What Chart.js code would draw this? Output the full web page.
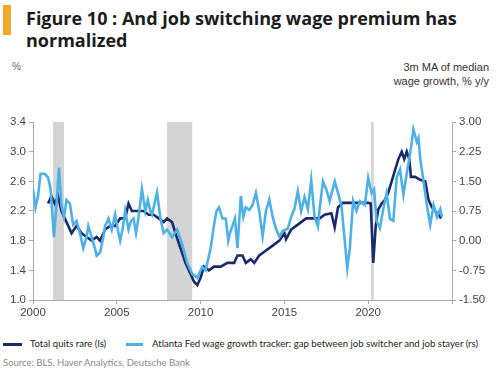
<!DOCTYPE html>
<html>
<head>
<meta charset="utf-8">
<script src="https://cdn.jsdelivr.net/npm/chart.js@4"></script>
<style>
  body { margin: 0; width: 500px; height: 375px; background: #fff; position: relative; overflow: hidden; font-family: "Liberation Sans", Arial, sans-serif; }
  .bar { position: absolute; left: 3px; top: 5px; width: 8px; height: 30px; background: #f3a82e; }
  .titulo { position: absolute; left: 26px; top: 7px; font-family: "Open Sans", sans-serif; font-weight: 700; font-size: 18px; line-height: 22px; color: #1c1c1c; white-space: nowrap; }
  .unid { position: absolute; left: 12px; top: 61px; font-size: 10px; color: #666; }
  .unidDir { position: absolute; right: 11px; top: 60px; font-size: 11px; line-height: 14px; color: #333; text-align: right; }
  #wrap { position: absolute; left: 0; top: 110px; width: 500px; height: 215px; }
  .leg { position: absolute; top: 338px; font-family: Lato, sans-serif; font-size: 9.6px; color: #222; white-space: nowrap; }
  .traco { position: absolute; top: 343px; height: 3px; }
  .fonte { position: absolute; left: 3px; top: 357px; font-family: Lato, sans-serif; font-size: 9.5px; color: #8a8a8a; }
</style>
</head>
<body>
<div class="bar"></div>
<div class="titulo">Figure 10 : And job switching wage premium has<br>normalized</div>
<div class="unid">%</div>
<div class="unidDir">3m MA of median<br>wage growth, % y/y</div>
<div id="wrap"><canvas id="myChart" width="500" height="215"></canvas></div>
<div class="traco" style="left:3px;width:19px;background:#1b2a6b"></div>
<div class="leg" style="left:30px">Total quits rare (ls)</div>
<div class="traco" style="left:126px;width:17px;background:#4eb1e6"></div>
<div class="leg" style="left:152px">Atlanta Fed wage growth tracker: gap between job switcher and job stayer (rs)</div>
<div class="fonte">Source: BLS, Haver Analytics, Deutsche Bank</div>

<script>
// taxa de pedidos de demissao (eixo esquerdo)
const quitsAnos = [2000.9, 2001.1, 2001.3, 2001.5, 2001.7, 2001.9, 2002.1, 2002.3, 2002.6, 2002.9,
  2003.2, 2003.5, 2003.8, 2004.0, 2004.3, 2004.6, 2004.9, 2005.2, 2005.5, 2005.7, 2005.9,
  2006.2, 2006.6, 2006.9, 2007.2, 2007.5, 2007.8, 2008.0, 2008.3, 2008.5, 2008.8, 2009.1,
  2009.4, 2009.6, 2009.8, 2010.0, 2010.2, 2010.5, 2010.8, 2011.2, 2011.6, 2012.0, 2012.2,
  2012.5, 2012.7, 2013.0, 2013.2, 2013.5, 2013.8, 2014.1, 2014.4, 2014.7, 2015.0, 2015.1,
  2015.4, 2015.7, 2016.0, 2016.3, 2016.8, 2017.1, 2017.4, 2017.8, 2018.0, 2018.2, 2018.5,
  2019.0, 2019.5, 2020.0, 2020.15, 2020.3, 2020.45, 2020.6, 2020.8, 2021.0, 2021.2, 2021.4,
  2021.6, 2021.8, 2022.0, 2022.15, 2022.3, 2022.45, 2022.55, 2022.8, 2023.1, 2023.4, 2023.6,
  2023.8, 2024.0, 2024.2, 2024.35];
const quitsTaxa = [2.3, 2.4, 2.3, 2.4, 2.2, 2.1, 2.0, 1.9, 2.0, 1.9,
  1.85, 1.8, 1.85, 1.8, 1.95, 2.0, 2.0, 2.1, 2.1, 2.3, 2.2,
  2.2, 2.2, 2.15, 2.15, 2.1, 2.05, 2.1, 2.05, 1.9, 1.7, 1.5,
  1.35, 1.25, 1.2, 1.3, 1.45, 1.4, 1.45, 1.45, 1.5, 1.5, 1.6,
  1.6, 1.5, 1.55, 1.5, 1.6, 1.65, 1.7, 1.75, 1.8, 1.9, 1.82,
  1.95, 2.0, 2.05, 2.1, 2.1, 2.1, 2.15, 2.17, 1.98, 2.25, 2.31,
  2.31, 2.31, 2.31, 2.3, 1.5, 2.0, 2.22, 2.3, 2.35, 2.45, 2.6,
  2.75, 2.9, 3.0, 2.9, 3.0, 2.9, 2.66, 2.66, 2.62, 2.6, 2.35,
  2.25, 2.2, 2.15, 2.1];

// gap trocador x permanente (eixo direito)
const gapAnos = [2000.0, 2000.15, 2000.3, 2000.45, 2000.7, 2000.9, 2001.05, 2001.25, 2001.4, 2001.55,
  2001.7, 2001.85, 2002.0, 2002.2, 2002.4, 2002.6, 2002.8, 2003.0, 2003.2, 2003.3,
  2003.5, 2003.7, 2003.8, 2004.0, 2004.2, 2004.3, 2004.5, 2004.7, 2004.9, 2005.05,
  2005.2, 2005.35, 2005.5, 2005.7, 2005.85, 2006.0, 2006.15, 2006.3, 2006.5, 2006.7,
  2006.85, 2007.0, 2007.1, 2007.4, 2007.6, 2007.8, 2008.0, 2008.3, 2008.6, 2008.9,
  2009.2, 2009.5, 2009.8, 2010.1, 2010.3, 2010.6, 2010.8, 2010.95, 2011.1, 2011.3,
  2011.5, 2011.65, 2011.75, 2011.9, 2012.05, 2012.2, 2012.4, 2012.55, 2012.7, 2012.9,
  2013.1, 2013.3, 2013.5, 2013.7, 2013.9, 2014.1, 2014.3, 2014.5, 2014.7, 2014.9,
  2015.2, 2015.4, 2015.6, 2015.8, 2016.0, 2016.2, 2016.4, 2016.6, 2016.8, 2017.0,
  2017.1, 2017.3, 2017.5, 2017.7, 2018.0, 2018.2, 2018.4, 2018.6, 2018.75, 2018.9,
  2019.1, 2019.3, 2019.5, 2019.8, 2020.0, 2020.2, 2020.35, 2020.5, 2020.7, 2020.9,
  2021.1, 2021.3, 2021.5, 2021.7, 2021.9, 2022.1, 2022.3, 2022.5, 2022.7, 2022.9,
  2023.0, 2023.1, 2023.3, 2023.5, 2023.7, 2023.9, 2024.1, 2024.3, 2024.4];
const gapValores = [1.31, 0.84, 1.13, 1.69, 1.69, 1.6, 1.3, 0.09, 0.9, 1.84,
  0.9, 0.6, 1.03, 0.94, 0.4, 0.5, 0.19, -0.19, 0.1, 0.37,
  0.09, -0.2, -0.38, -0.3, 0.1, 0.37, 0.56, 0.28, 0.66, 0.3,
  0.0, 0.3, 0.75, 0.28, 0.5, 0.56, 0.19, 0.6, 1.31, 0.75,
  1.03, 0.75, 0.66, 1.22, 0.56, 0.19, 0.28, 0.09, 0.28, -0.09,
  -0.56, -0.84, -0.94, -0.66, -0.75, -0.19, 0.4, 0.75, 0.84, 0.56,
  0.56, 0.0, 0.19, 0.375, 0.56, -0.19, 1.13, 0.6, 0.84, 0.78,
  0.9, 1.21, 0.75, 0.11, 0.75, 1.04, 0.6, 0.3, 0.1, 0.25,
  0.3, 0.6, 0.8, 1.25, 0.75, 1.1, 0.8, 1.53, 0.6, 0.36,
  0.8, 1.5, 1.3, 1.0, 1.5, 1.2, 0.9, 0.0, -0.7, -0.2,
  1.0, 0.75, 1.0, 0.9, 1.59, 1.2, 1.3, 0.5, 0.32, 0.8,
  1.2, 0.55, 0.5, 1.6, 1.8, 1.16, 1.7, 2.2, 2.81, 2.5,
  2.6, 2.1, 1.5, 0.9, 0.4, 0.9, 0.6, 0.8, 0.6];

// recessoes (faixas cinzas)
const recessaoInicio = [2001.2, 2008.0, 2020.17];
const recessaoFim = [2001.85, 2009.5, 2020.33];

// ticks
const ticksEsq = [1.0, 1.4, 1.8, 2.2, 2.6, 3.0, 3.4];
const ticksDir = [-1.5, -0.75, 0, 0.75, 1.5, 2.25, 3.0];
const ticksAno = [2000, 2005, 2010, 2015, 2020, 2025];

const corEscura = '#1b2a6b';
const corClara = '#4eb1e6';
const fonteEixo = { family: 'Liberation Sans', size: 11.5 };

const faixas = {
  id: 'faixas',
  beforeDatasetsDraw(chart) {
    const c = chart.ctx, a = chart.chartArea, x = chart.scales.x;
    c.save();
    c.fillStyle = '#d4d4d4';
    for (let i = 0; i < recessaoInicio.length; i++) {
      const x1 = x.getPixelForValue(recessaoInicio[i]);
      const x2 = x.getPixelForValue(recessaoFim[i]);
      c.fillRect(x1, a.top, x2 - x1, a.bottom - a.top);
    }
    c.restore();
  }
};

const ctx = document.getElementById('myChart').getContext('2d');
new Chart(ctx, {
  type: 'line',
  data: {
    datasets: [
      {
        label: 'Atlanta Fed wage growth tracker: gap between job switcher and job stayer (rs)',
        data: gapAnos.map((a, i) => ({ x: a, y: gapValores[i] })),
        borderColor: corClara,
        borderWidth: 2.6,
        pointRadius: 0,
        tension: 0,
        yAxisID: 'y1',
        order: 0
      },
      {
        label: 'Total quits rare (ls)',
        data: quitsAnos.map((a, i) => ({ x: a, y: quitsTaxa[i] })),
        borderColor: corEscura,
        borderWidth: 2.6,
        pointRadius: 0,
        tension: 0,
        yAxisID: 'y',
        order: 1
      }
    ]
  },
  options: {
    responsive: false,
    animation: false,
    layout: { padding: { top: 12, left: 0, right: 0, bottom: 0 } },
    plugins: { legend: { display: false }, tooltip: { enabled: false } },
    scales: {
      x: {
        type: 'linear',
        min: 2000, max: 2025,
        afterBuildTicks: s => { s.ticks = ticksAno.map(v => ({ value: v })); },
        afterFit: s => { s.height = 25; },
        ticks: { font: fonteEixo, color: '#444', padding: 2, maxRotation: 0,
          callback: v => (v <= 2020 ? String(v) : '') },
        grid: { drawOnChartArea: false, tickLength: 4, color: '#aaa' },
        border: { color: '#aaa' }
      },
      y: {
        position: 'left',
        min: 1.0, max: 3.4,
        afterBuildTicks: s => { s.ticks = ticksEsq.map(v => ({ value: v })); },
        afterFit: s => { s.width = 33; },
        ticks: { font: fonteEixo, color: '#444', padding: 3, callback: v => v.toFixed(1) },
        grid: { drawOnChartArea: false, tickLength: 4, color: '#aaa' },
        border: { color: '#aaa' }
      },
      y1: {
        position: 'right',
        min: -1.5, max: 3.0,
        afterBuildTicks: s => { s.ticks = ticksDir.map(v => ({ value: v })); },
        afterFit: s => { s.width = 48; },
        ticks: { font: fonteEixo, color: '#444', padding: 3, callback: v => v.toFixed(2) },
        grid: { drawOnChartArea: false, tickLength: 4, color: '#aaa' },
        border: { color: '#aaa' }
      }
    }
  },
  plugins: [faixas]
});
</script>
</body>
</html>
